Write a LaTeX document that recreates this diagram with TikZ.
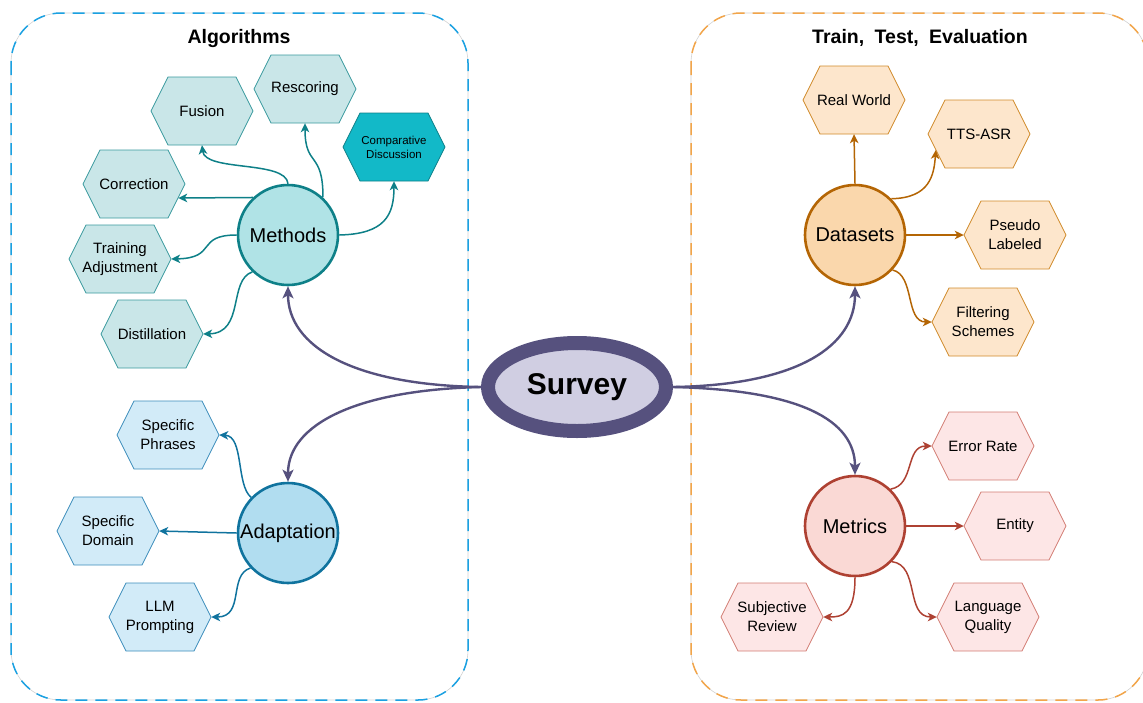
\documentclass[tikz,border=0pt]{standalone}
\usepackage{fontspec}
\setmainfont{Liberation Sans}
\usetikzlibrary{arrows.meta,shapes.geometric}
\definecolor{survdark}{HTML}{56517E}
\definecolor{survfill}{HTML}{D0CEE2}
\definecolor{tealD}{HTML}{0E8088}
\definecolor{tealC}{HTML}{B0E3E6}
\definecolor{tealH}{HTML}{C9E6E8}
\definecolor{tealHB}{HTML}{3A9A9E}
\definecolor{tealCmp}{HTML}{12B9C8}
\definecolor{blueD}{HTML}{10739E}
\definecolor{blueC}{HTML}{B1DDF0}
\definecolor{blueH}{HTML}{D2EBF8}
\definecolor{blueHB}{HTML}{3C8DBB}
\definecolor{orgD}{HTML}{B46504}
\definecolor{orgC}{HTML}{FAD7AC}
\definecolor{orgH}{HTML}{FDE6CC}
\definecolor{orgHB}{HTML}{D08A2A}
\definecolor{redD}{HTML}{AE4132}
\definecolor{redC}{HTML}{FAD9D5}
\definecolor{redH}{HTML}{FDE6E6}
\definecolor{redHB}{HTML}{D27D74}
\definecolor{boxBlue}{HTML}{1BA1E2}
\definecolor{boxOrg}{HTML}{F2A54A}
\newcommand{\hexnode}[6][]{%
  \path[#2] (#4-51,#5) -- (#4-34,#5-34) -- (#4+34,#5-34) -- (#4+51,#5) -- (#4+34,#5+34) -- (#4-34,#5+34) -- cycle;
  \node[hexlabel,#1] (#3) at (#4,#5) {#6};}
\begin{document}
\begin{tikzpicture}[x=1pt,y=-1pt,
  hexlabel/.style={minimum width=102pt,minimum height=68pt,inner sep=0pt,align=center,font=\fontsize{15}{19}\selectfont},
  smalllabel/.style={font=\fontsize{11.5}{14}\selectfont},
  hubcircle/.style={circle,minimum size=100pt,inner sep=0pt,line width=2.6pt,font=\fontsize{20}{24}\selectfont},
  titletext/.style={font=\fontsize{19.5}{22}\selectfont\bfseries},
  container/.style={rounded corners=50pt,line width=1.5pt,dash pattern=on 12pt off 8pt},
  mainarrow/.style={draw=survdark,line width=2.4pt,-{Stealth[length=12pt,width=11pt,inset=3pt]}},
  childarrow/.style={line width=1.5pt,-{Stealth[length=9pt,width=8.5pt,inset=2.5pt]}},
  tealarrow/.style={childarrow,draw=tealD,color=tealD},
  bluearrow/.style={childarrow,draw=blueD,color=blueD},
  orgarrow/.style={childarrow,draw=orgD,color=orgD},
  redarrow/.style={childarrow,draw=redD,color=redD},
  tealhex/.style={fill=tealH,draw=tealHB,line width=0.8pt},
  cmphex/.style={fill=tealCmp,draw=tealD,line width=0.8pt},
  bluehex/.style={fill=blueH,draw=blueHB,line width=0.8pt},
  orghex/.style={fill=orgH,draw=orgHB,line width=0.8pt},
  redhex/.style={fill=redH,draw=redHB,line width=0.8pt}]
\useasboundingbox (0,0) rectangle (1143,702);
% containers
\draw[rounded corners=50pt,line width=0.6pt,draw=black!18] (11,13) rectangle (468,700);
\draw[container,draw=boxBlue] (11,13) rectangle (468,700);
\draw[rounded corners=50pt,line width=0.6pt,draw=black!18] (691,13) rectangle (1148,700);
\draw[container,draw=boxOrg] (691,13) rectangle (1148,700);
\node[titletext] (algtitle) at (239,38) {Algorithms};
\node[titletext] (tteTitle) at (920,38) {Train,\hspace{5pt} Test,\hspace{5pt} Evaluation};
% survey
\node[ellipse,minimum width=178pt,minimum height=88pt,inner sep=0pt,line width=14pt,draw=survdark,fill=survfill,font=\fontsize{30}{32}\selectfont\bfseries] (survey) at (577,387) {Survey};
% hubs
\node[hubcircle,draw=tealD,fill=tealC] (methods) at (288,235) {Methods};
\node[hubcircle,draw=blueD,fill=blueC] (adaptation) at (288,533) {Adaptation};
\node[hubcircle,draw=orgD,fill=orgC] (datasets) at (855,235) {Datasets};
\node[hubcircle,draw=redD,fill=redC] (metrics) at (855,526) {Metrics};
% hexes
\hexnode{tealhex}{fusion}{202}{111}{Fusion}
\hexnode{tealhex}{rescoring}{305}{89}{Rescoring}
\hexnode[smalllabel]{cmphex}{comparative}{394}{147}{Comparative\\Discussion}
\hexnode{tealhex}{correction}{134}{184}{Correction}
\hexnode{tealhex}{training}{120}{259}{Training\\Adjustment}
\hexnode{tealhex}{distillation}{152}{334}{Distillation}
\hexnode{bluehex}{phrases}{168}{435}{Specific\\Phrases}
\hexnode{bluehex}{domain}{108}{531}{Specific\\Domain}
\hexnode{bluehex}{llm}{160}{617}{LLM\\Prompting}
\hexnode{orghex}{realworld}{854}{100}{Real World}
\hexnode{orghex}{tts}{979}{134}{TTS-ASR}
\hexnode{orghex}{pseudo}{1015}{235}{Pseudo\\Labeled}
\hexnode{orghex}{filtering}{983}{322}{Filtering\\Schemes}
\hexnode{redhex}{errorrate}{983}{446}{Error Rate}
\hexnode{redhex}{entity}{1015}{526}{Entity}
\hexnode{redhex}{subjective}{772}{617}{Subjective\\Review}
\hexnode{redhex}{language}{988}{617}{Language\\Quality}
% main connectors
\draw[mainarrow] (survey.west) .. controls (350,385) and (288,345) .. (methods.south);
\draw[mainarrow] (survey.west) .. controls (355,390) and (288,425) .. (adaptation.north);
\draw[mainarrow] (survey.east) .. controls (800,385) and (855,345) .. (datasets.south);
\draw[mainarrow] (survey.east) .. controls (800,390) and (855,420) .. (metrics.north);
% methods children
\draw[tealarrow] (methods.north) .. controls (286,160) and (205,172) .. (fusion.south);
\draw[tealarrow] (methods.47) .. controls (323,150) and (305,168) .. (rescoring.south);
\draw[tealarrow] (methods.east) .. controls (385,234) and (394,215) .. (comparative.south);
\draw[tealarrow] (methods.133) -- ([shift={(-7,14)}]correction.east);
\draw[tealarrow] (methods.west) .. controls (195,235) and (218,258) .. (training.east);
\draw[tealarrow] (methods.226) .. controls (228,280) and (245,333) .. (distillation.east);
% adaptation children
\draw[bluearrow] (adaptation.136) .. controls (236,485) and (244,436) .. (phrases.east);
\draw[bluearrow] (adaptation.west) -- (domain.east);
\draw[bluearrow] (adaptation.223) .. controls (228,575) and (245,617) .. (llm.east);
% datasets children
\draw[orgarrow] (datasets.north) -- (realworld.south);
\draw[orgarrow] (datasets.45) .. controls (930,198) and (934,175) .. ([shift={(8,16)}]tts.west);
\draw[orgarrow] (datasets.east) -- (pseudo.west);
\draw[orgarrow] (datasets.317) .. controls (915,275) and (905,322) .. (filtering.west);
% metrics children
\draw[redarrow] (metrics.46) .. controls (915,485) and (905,446) .. (errorrate.west);
\draw[redarrow] (metrics.east) -- (entity.west);
\draw[redarrow] (metrics.south) .. controls (855,615) and (842,617) .. (subjective.east);
\draw[redarrow] (metrics.316) .. controls (920,565) and (905,617) .. (language.west);
\end{tikzpicture}
\end{document}
